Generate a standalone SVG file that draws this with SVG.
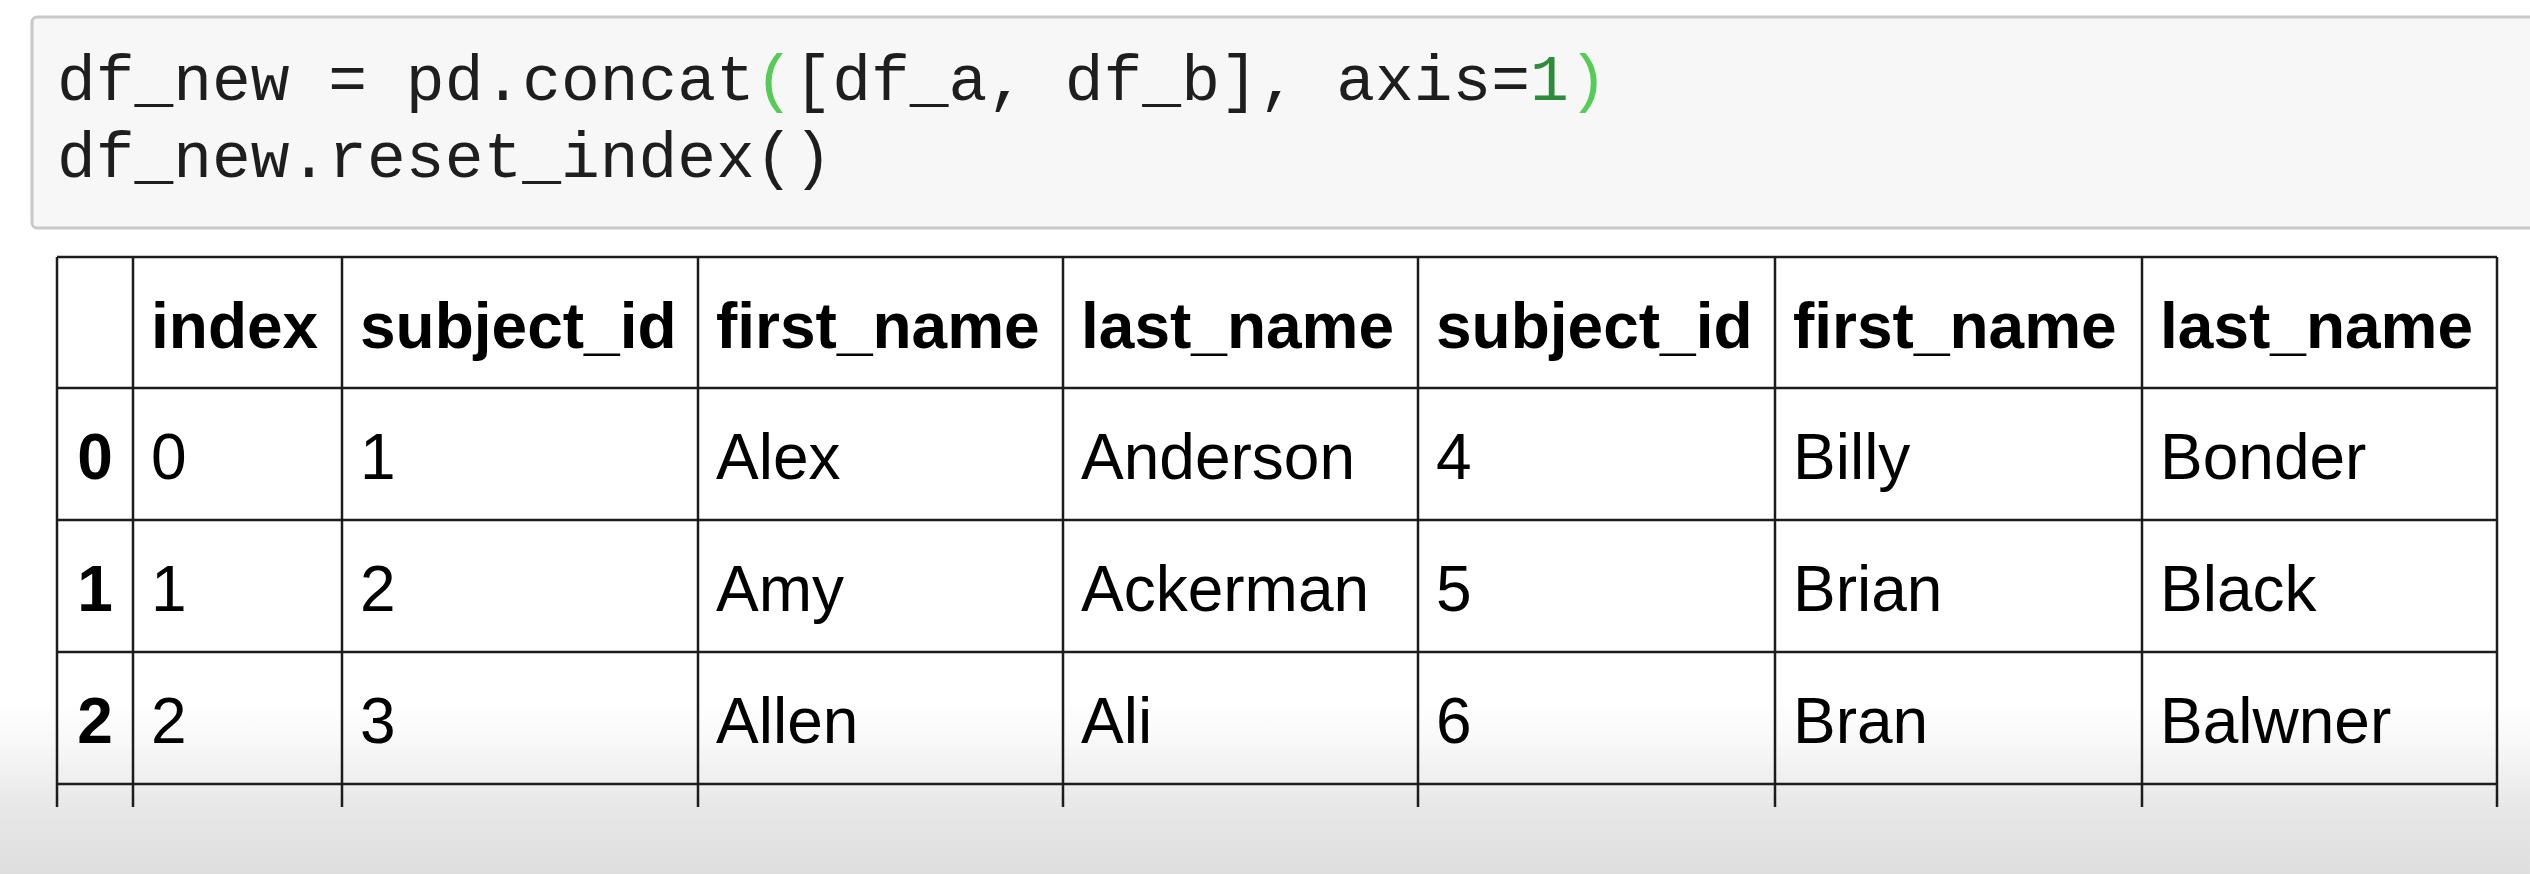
<svg xmlns="http://www.w3.org/2000/svg" width="2530" height="874" viewBox="0 0 2530 874">
<defs>
<linearGradient id="shade" x1="0" y1="0" x2="0" y2="1">
<stop offset="0" stop-color="#ffffff"/>
<stop offset="0.25" stop-color="#f8f8f8"/>
<stop offset="0.6" stop-color="#e8e8e8"/>
<stop offset="1" stop-color="#dedede"/>
</linearGradient>
<style>
.code{font-family:"Liberation Mono","Courier New",monospace;font-size:64.6px;fill:#1e1e1e;}
.br{fill:#55cc55;}
.num{fill:#2e8b3c;}
.th{font-family:"Liberation Sans",Arial,Helvetica,sans-serif;font-size:64px;font-weight:bold;fill:#000000;}
.td{font-family:"Liberation Sans",Arial,Helvetica,sans-serif;font-size:64px;fill:#000000;}
.rl{font-family:"Liberation Sans",Arial,Helvetica,sans-serif;font-size:64px;font-weight:bold;fill:#000000;text-anchor:middle;}
.grid line{stroke:#1c1c1c;stroke-width:2.5;}
</style>
</defs>
<rect x="0" y="0" width="2530" height="874" fill="#ffffff"/>
<rect x="0" y="700" width="2530" height="174" fill="url(#shade)"/>

<g id="code-cell">
<rect x="32" y="17" width="2520" height="211" rx="5" ry="5" fill="#f7f7f7" stroke="#c8c8c8" stroke-width="3"/>
<text class="code" x="57" y="100" xml:space="preserve">df_new = pd.concat<tspan class="br">(</tspan>[df_a, df_b], axis=<tspan class="num">1</tspan><tspan class="br">)</tspan></text>
<text class="code" x="57" y="177" xml:space="preserve">df_new.reset_index()</text>
</g>

<g id="table-grid" class="grid">
<line x1="57" y1="257" x2="2497" y2="257"/>
<line x1="57" y1="388" x2="2497" y2="388"/>
<line x1="57" y1="520" x2="2497" y2="520"/>
<line x1="57" y1="652" x2="2497" y2="652"/>
<line x1="57" y1="784" x2="2497" y2="784"/>
<line x1="57" y1="257" x2="57" y2="807"/>
<line x1="133" y1="257" x2="133" y2="807"/>
<line x1="342" y1="257" x2="342" y2="807"/>
<line x1="698" y1="257" x2="698" y2="807"/>
<line x1="1063" y1="257" x2="1063" y2="807"/>
<line x1="1418" y1="257" x2="1418" y2="807"/>
<line x1="1775" y1="257" x2="1775" y2="807"/>
<line x1="2142" y1="257" x2="2142" y2="807"/>
<line x1="2497" y1="257" x2="2497" y2="807"/>
</g>

<g id="header-row">
<text class="th" x="151" y="348">index</text>
<text class="th" x="360" y="348">subject_id</text>
<text class="th" x="716" y="348">first_name</text>
<text class="th" x="1081" y="348">last_name</text>
<text class="th" x="1436" y="348">subject_id</text>
<text class="th" x="1793" y="348">first_name</text>
<text class="th" x="2160" y="348">last_name</text>
</g>

<g id="row-0">
<text class="rl" x="95" y="479">0</text>
<text class="td" x="151" y="479">0</text>
<text class="td" x="360" y="479">1</text>
<text class="td" x="716" y="479">Alex</text>
<text class="td" x="1081" y="479">Anderson</text>
<text class="td" x="1436" y="479">4</text>
<text class="td" x="1793" y="479">Billy</text>
<text class="td" x="2160" y="479">Bonder</text>
</g>

<g id="row-1">
<text class="rl" x="95" y="611">1</text>
<text class="td" x="151" y="611">1</text>
<text class="td" x="360" y="611">2</text>
<text class="td" x="716" y="611">Amy</text>
<text class="td" x="1081" y="611">Ackerman</text>
<text class="td" x="1436" y="611">5</text>
<text class="td" x="1793" y="611">Brian</text>
<text class="td" x="2160" y="611">Black</text>
</g>

<g id="row-2">
<text class="rl" x="95" y="743">2</text>
<text class="td" x="151" y="743">2</text>
<text class="td" x="360" y="743">3</text>
<text class="td" x="716" y="743">Allen</text>
<text class="td" x="1081" y="743">Ali</text>
<text class="td" x="1436" y="743">6</text>
<text class="td" x="1793" y="743">Bran</text>
<text class="td" x="2160" y="743">Balwner</text>
</g>
</svg>
